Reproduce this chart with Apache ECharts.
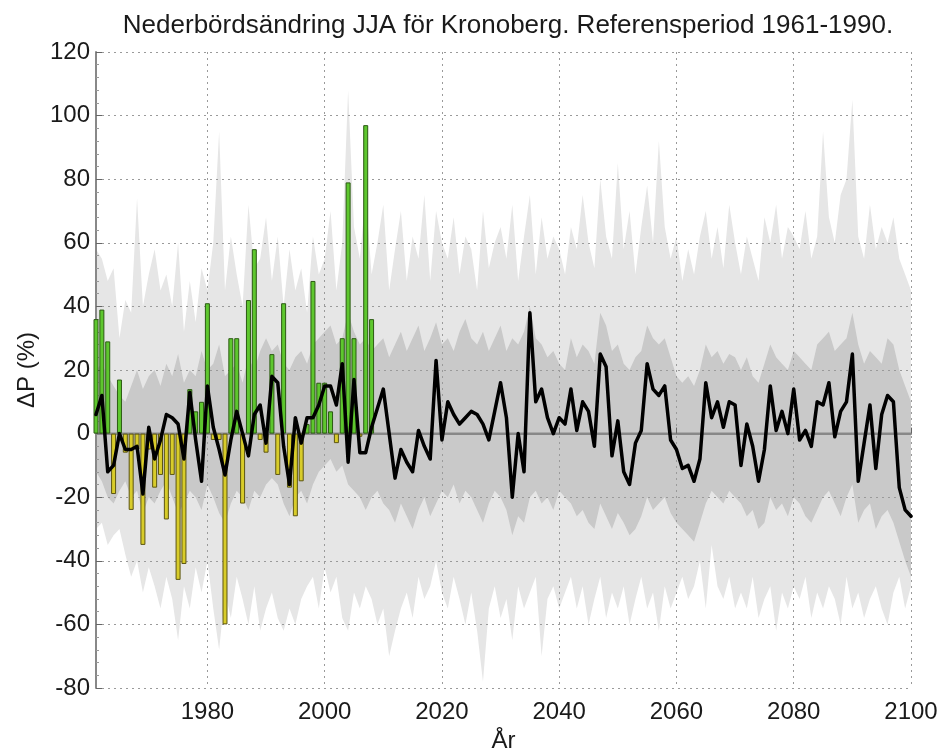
<!DOCTYPE html>
<html>
<head>
<meta charset="utf-8">
<title>Nederbördsändring JJA för Kronoberg</title>
<script src="https://cdn.jsdelivr.net/npm/echarts@6/dist/echarts.min.js"></script>
<style>
  html, body { margin: 0; padding: 0; background: #fff; }
  #chart { width: 937px; height: 749px; }
</style>
</head>
<body>
<div id="chart"></div>
<script>
  // år 1961-2100
  var years = [];
  for (var y = 1961; y <= 2100; y++) years.push(y);

  // observerad förändring (staplar), 1961-2008
  var obsValues = [
    36, 39, 29, -19, 17, -6, -24, -5, -35, -5,
    -17, -13, -27, -13, -46, -41, 14, 7, 10, 41,
    -2, -2, -60, 30, 30, -22, 42, 58, -2, -6,
    25, -13, 41, -17, -26, -15, 3, 48, 16, 16,
    7, -3, 30, 79, 30, -1, 97, 36
  ];

  // ensemblens median (svart linje)
  var medianValues = [
    6, 12, -12, -10, 0, -5, -5, -4, -19, 2,
    -8, -2, 6, 5, 3, -8, 13, -2, -15, 15,
    2, -5, -13, -2, 7, 0, -7, 6, 9, -3,
    18, 16, -4, -16, 5, -3, 5, 5, 9, 15,
    15, 9, 22, -9, 17, -6, -6, 2, 8, 14,
    0, -14, -5, -9, -12, 1, -4, -8, 23, -2,
    10, 6, 3, 5, 7, 6, 3, -2, 7, 16,
    5, -20, 0, -12, 38, 10, 14, 5, 0, 5,
    3, 14, 1, 10, 7, -4, 25, 21, -7, 4,
    -12, -16, -3, 1, 22, 14, 12, 15, -2, -5,
    -11, -10, -15, -8, 16, 5, 10, 2, 10, 9,
    -10, 3, -4, -15, -5, 15, 1, 7, 0, 14,
    -2, 1, -4, 10, 9, 16, -1, 7, 10, 25,
    -15, -3, 9, -11, 6, 12, 10, -17, -24, -26
  ];

  // ljusgrått fält (min-max)
  var outerUpper = [
    58, 55, 48, 52, 30, 42, 38, 74, 40, 50,
    58, 45, 50, 40, 60, 32, 48, 35, 52, 45,
    60, 95, 45, 62, 50, 40, 72, 52, 55, 68,
    48, 62, 40, 58, 45, 52, 38, 62, 50, 55,
    70, 45, 60, 108, 65, 55, 75, 50, 60, 72,
    45, 58, 70, 48, 62, 55, 75, 48, 70, 60,
    55, 68, 50, 62, 58, 45, 70, 52, 60, 65,
    55, 72, 48, 62, 75, 50, 68, 55, 62, 58,
    50, 65, 58, 75, 60, 52, 80, 62, 55, 85,
    58, 70, 50, 65, 78, 60, 92, 65, 55, 62,
    48, 58, 50, 62, 70, 55, 65, 52, 72, 60,
    50, 62, 55, 48, 68, 60, 72, 55, 65, 62,
    58, 70, 55, 62, 95, 68, 60, 75, 80, 105,
    62, 55, 72, 58, 65, 60, 68, 55, 50, 45
  ];
  var outerLower = [
    -30, -28, -35, -32, -30, -38, -45, -40, -50, -42,
    -48, -55, -45, -52, -65, -48, -55, -42, -50, -40,
    -55, -68, -50, -58, -45, -52, -60, -48, -62, -55,
    -50, -58, -62, -55, -60, -52, -48, -45, -55, -42,
    -50, -45, -58, -62, -50, -55, -48, -52, -60, -55,
    -70, -62, -55, -50, -58, -45, -52, -48, -40, -50,
    -55, -45, -52, -60, -50, -62, -78, -55, -48, -58,
    -52, -65, -48, -55, -50, -45, -70, -52, -48, -55,
    -50, -45, -55, -48, -60, -52, -45, -58, -50, -55,
    -48, -60, -52, -45, -55, -50, -62, -48, -55, -50,
    -45, -52, -48, -40, -55, -35, -48, -52, -45, -55,
    -50, -55, -45, -58, -52, -48, -62, -50, -55, -48,
    -52, -45, -58, -50, -55, -48, -52, -60, -45, -55,
    -50, -58, -52, -48, -55, -60, -50, -45, -55, -48
  ];

  // mörkgrått fält
  var innerUpper = [
    20, 22, 18, 15, 12, 10, 15, 20, 14, 18,
    20, 15, 22, 18, 25, 16, 20, 18, 26, 20,
    22, 28, 18, 20, 22, 16, 24, 20, 26, 30,
    26, 28, 22, 20, 24, 26, 22, 28, 30, 32,
    34, 28, 30, 38, 32, 28, 30, 26, 28, 30,
    24, 28, 32, 26, 30, 34, 26, 30, 35, 28,
    30, 26, 32, 36, 30, 28, 32, 26, 30, 34,
    26, 30, 28, 32, 40, 30, 28, 24, 26, 22,
    20, 30, 24, 28, 26, 22, 38, 34, 26, 28,
    22, 20, 24, 26, 34, 30, 28, 30, 24, 18,
    16, 18, 15, 20, 28, 24, 26, 22, 25, 24,
    20, 24, 18, 16, 22, 28, 24, 22, 20, 26,
    24, 22, 20, 28, 30, 32, 26, 28, 30, 38,
    28, 22, 26, 24, 22, 30, 28, 20, 15, 10
  ];
  var innerLower = [
    -12, -15, -20, -22, -18, -15, -20, -18, -25, -20,
    -22, -18, -15, -20, -25, -22, -18, -20, -24, -16,
    -20, -25, -28, -22, -18, -20, -24, -18, -20, -16,
    -14, -16, -22, -26, -20, -18, -22, -16, -12, -10,
    -8, -12, -10, -16, -18, -20, -24, -20, -18, -22,
    -24, -28, -22, -26, -30, -24, -20, -26, -22, -18,
    -20, -16, -22, -18, -20, -24, -28, -22, -18, -20,
    -24, -32, -26, -28, -20, -18, -22, -20, -24, -18,
    -20, -22, -26, -24, -28, -30, -22, -26, -30, -25,
    -28, -32, -30, -26, -20, -24, -22, -20, -25, -28,
    -30, -32, -34, -28, -22, -18, -20, -22, -18, -20,
    -22, -26, -24, -30, -28, -20, -24, -22, -26, -20,
    -22, -26, -28, -24, -20, -18, -22, -26, -20, -16,
    -28, -24, -22, -30, -26, -24, -28, -34, -40, -45
  ];

  var chart = echarts.init(document.getElementById('chart'));
  var font = 'Liberation Sans';

  function pairs(vals) {
    return vals.map(function (v, i) { return [years[i], v]; });
  }

  // fält som en polygon mellan övre och nedre kurvan
  function band(upper, lower, color, z) {
    return {
      type: 'custom',
      z: z,
      silent: true,
      clip: true,
      data: years.map(function (yr, i) { return [yr, lower[i], upper[i]]; }),
      encode: { x: 0, y: [1, 2] },
      renderItem: function (params, api) {
        if (params.dataIndex !== 0) return null;
        var pts = [];
        for (var i = 0; i < years.length; i++) pts.push(api.coord([years[i], upper[i]]));
        for (var j = years.length - 1; j >= 0; j--) pts.push(api.coord([years[j], lower[j]]));
        return { type: 'polygon', shape: { points: pts }, style: { fill: color } };
      }
    };
  }

  var barData = obsValues.map(function (v, i) {
    return {
      value: [years[i], v],
      itemStyle: v >= 0
        ? { color: '#5ec72e', borderColor: '#2b5a12' }
        : { color: '#d8cc2a', borderColor: '#5c5512' }
    };
  });

  var gridLine = { show: true, lineStyle: { color: '#9a9a9a', type: [2, 4], width: 1 } };

  var option = {
    backgroundColor: '#fff',
    animation: false,
    title: {
      text: 'Nederbördsändring JJA för Kronoberg. Referensperiod 1961-1990.',
      left: 503,
      top: 8,
      textAlign: 'center',
      textStyle: { fontFamily: font, fontSize: 26, fontWeight: 'normal', color: '#1a1a1a' }
    },
    grid: { left: 96, right: 26, top: 52, bottom: 61, outerBoundsMode: 'none' },
    xAxis: {
      type: 'value',
      min: 1961,
      max: 2100,
      splitNumber: 7,
      z: 3,
      name: 'År',
      nameLocation: 'middle',
      nameGap: 38,
      nameTextStyle: { fontFamily: font, fontSize: 24, color: '#1a1a1a' },
      axisLine: { lineStyle: { color: '#888', width: 2 } },
      axisTick: { inside: true, length: 6, lineStyle: { color: '#666' } },
      axisLabel: {
        showMinLabel: false,
        fontFamily: font, fontSize: 24, color: '#1a1a1a', margin: 12,
        formatter: function (v) { return v % 20 === 0 ? String(v) : ''; }
      },
      splitLine: gridLine
    },
    yAxis: {
      type: 'value',
      min: -80,
      max: 120,
      interval: 20,
      z: 3,
      name: 'ΔP (%)',
      nameLocation: 'middle',
      nameRotate: 90,
      nameGap: 56,
      nameTextStyle: { fontFamily: font, fontSize: 24, color: '#1a1a1a' },
      axisLine: { show: true, lineStyle: { color: '#888', width: 2 } },
      axisTick: { show: true, inside: true, length: 6, lineStyle: { color: '#666' } },
      minorTick: { show: true, splitNumber: 5, length: 3, lineStyle: { color: '#999' } },
      axisLabel: { fontFamily: font, fontSize: 24, color: '#1a1a1a', margin: 6 },
      splitLine: gridLine
    },
    series: [
      band(outerUpper, outerLower, '#e6e6e6', 1),
      band(innerUpper, innerLower, '#c9c9c9', 2),
      {
        type: 'line', data: [[1961, 0], [2100, 0]], symbol: 'none', z: 2, silent: true,
        lineStyle: { color: '#8c8c8c', width: 2 }
      },
      {
        type: 'bar', data: barData, barWidth: 5, z: 4,
        itemStyle: { borderWidth: 1 }
      },
      {
        type: 'line', data: pairs(medianValues), symbol: 'none', z: 5,
        lineStyle: { color: '#000', width: 3.5, join: 'round', cap: 'round' }
      }
    ]
  };

  chart.setOption(option);
</script>
</body>
</html>
